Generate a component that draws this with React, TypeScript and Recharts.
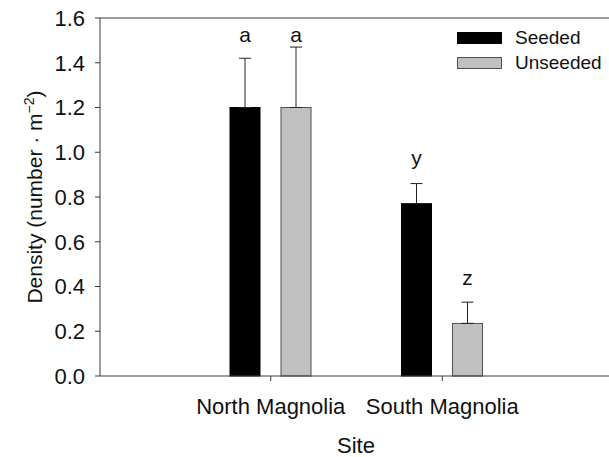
import { BarChart, Bar, XAxis, YAxis, ErrorBar, Legend, ReferenceLine } from 'recharts';

const sites = ['North Magnolia', 'South Magnolia'];
const seeded = [1.2, 0.77];
const seededErr = [0.22, 0.09];
const unseeded = [1.2, 0.235];
const unseededErr = [0.27, 0.095];
// significance letters and the value at which each letter's baseline sits
const seededLetters = ['a', 'y'];
const seededLetterAt = [1.493, 0.943];
const unseededLetters = ['a', 'z'];
const unseededLetterAt = [1.493, 0.407];
const yTicks = [0, 0.2, 0.4, 0.6, 0.8, 1.0, 1.2, 1.4, 1.6];

const FONT = '"Liberation Sans", Arial, Helvetica, sans-serif';
const AXIS = '#3a3a3a';

const data = sites.map((site, i) => ({
  site,
  seeded: seeded[i],
  seededErr: [0, seededErr[i]],
  seededLetter: seededLetters[i],
  seededLetterAt: seededLetterAt[i],
  unseeded: unseeded[i],
  unseededErr: [0, unseededErr[i]],
  unseededLetter: unseededLetters[i],
  unseededLetterAt: unseededLetterAt[i],
}));

// bar rect plus its letter; letter height goes through the bar's own scale
const makeShape = (key: string, fill: string, stroke: string) => (props: any) => {
  const { x, y, width, height, payload } = props;
  const val = payload[key];
  const base = y + height;
  const perUnit = height / val;
  const ly = base - payload[key + 'LetterAt'] * perUnit;
  return (
    <g>
      <rect x={x} y={y} width={width} height={height} fill={fill} stroke={stroke} strokeWidth={1} />
      <text x={x + width / 2} y={ly} textAnchor="middle" fontSize={21} fontFamily={FONT} fill="#111">
        {payload[key + 'Letter']}
      </text>
    </g>
  );
};

const legendFills = ['#000000', '#c0c0c0'];

const renderLegend = (props: any) => {
  const { payload } = props;
  return (
    <div style={{ fontFamily: FONT, fontSize: 19, color: '#111' }}>
      {payload.map((entry: any, i: number) => (
        <div key={i} style={{ display: 'flex', alignItems: 'center', height: 25 }}>
          <div
            style={{
              width: 43,
              height: 10,
              background: legendFills[i],
              border: `1px solid ${i === 0 ? '#000' : '#505050'}`,
              marginRight: 13,
            }}
          />
          <span>{entry.value}</span>
        </div>
      ))}
    </div>
  );
};

export default function App() {
  return (
    <div style={{ position: 'fixed', left: 0, top: 0, width: 609, height: 457, overflow: 'hidden', background: '#fff' }}>
      <BarChart
        width={640}
        height={457}
        data={data}
        margin={{ top: 18, right: 10, bottom: 0, left: 0 }}
        barSize={30}
        barGap={21}
      >
        <XAxis
          dataKey="site"
          height={81}
          interval={0}
          padding={{ left: 85, right: 102 }}
          tickSize={5}
          tickMargin={17}
          axisLine={{ stroke: AXIS }}
          tickLine={{ stroke: AXIS }}
          tick={{ fontSize: 22, fontFamily: FONT, fill: '#111' }}
          label={({ viewBox }: any) => (
            <text
              x={356}
              y={viewBox.y + 77}
              textAnchor="middle"
              fontSize={22}
              fontFamily={FONT}
              fill="#111"
            >
              Site
            </text>
          )}
        />
        <YAxis
          width={100}
          domain={[0, 1.6]}
          ticks={yTicks}
          interval={0}
          tickFormatter={(v: number) => v.toFixed(1)}
          tickSize={5}
          tickMargin={10}
          axisLine={{ stroke: AXIS }}
          tickLine={{ stroke: AXIS }}
          tick={{ fontSize: 22, fontFamily: FONT, fill: '#111' }}
          label={({ viewBox }: any) => {
            const cy = viewBox.y + viewBox.height / 2;
            return (
              <text
                x={42}
                y={cy}
                transform={`rotate(-90, 42, ${cy})`}
                textAnchor="middle"
                fontSize={21}
                fontFamily={FONT}
                fill="#111"
              >
                Density (number · m
                <tspan dy={-8} fontSize={14}>−2</tspan>
                <tspan dy={8}>)</tspan>
              </text>
            );
          }}
        />
        <ReferenceLine y={1.6} stroke={AXIS} />
        <Legend
          verticalAlign="middle"
          align="center"
          layout="horizontal"
          content={renderLegend}
          wrapperStyle={{ top: 25, left: 457, width: 160 }}
        />
        <Bar
          dataKey="seeded"
          name="Seeded"
          fill="#000000"
          isAnimationActive={false}
          shape={makeShape('seeded', '#000000', '#000000')}
        >
          <ErrorBar dataKey="seededErr" width={6} stroke="#222" strokeWidth={1} direction="y" />
        </Bar>
        <Bar
          dataKey="unseeded"
          name="Unseeded"
          fill="#c0c0c0"
          isAnimationActive={false}
          shape={makeShape('unseeded', '#c0c0c0', '#505050')}
        >
          <ErrorBar dataKey="unseededErr" width={6} stroke="#222" strokeWidth={1} direction="y" />
        </Bar>
      </BarChart>
    </div>
  );
}
